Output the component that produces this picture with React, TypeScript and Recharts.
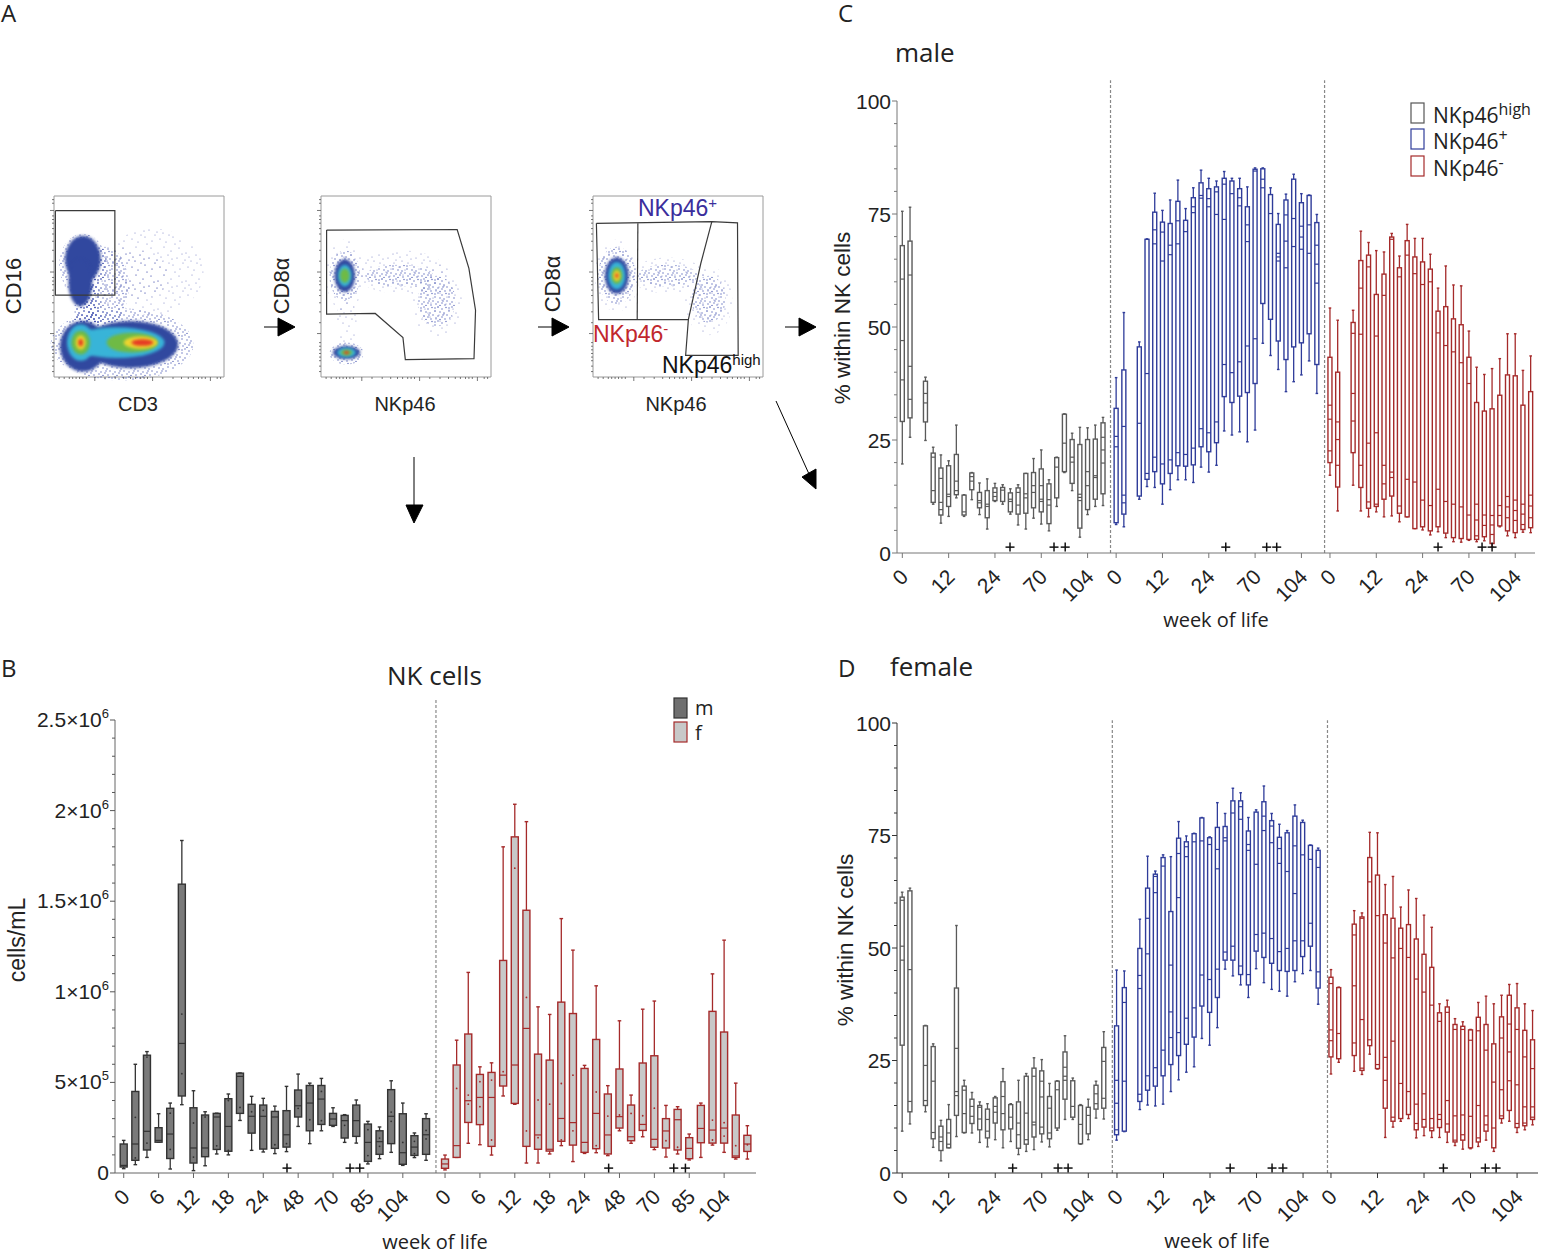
import React from 'react';
import { ComposedChart, ScatterChart, Bar, Scatter, XAxis, YAxis, ReferenceLine, ReferenceArea } from 'recharts';

// ---- box rows: [whisker low, box low, box high, whisker high, ...inner lines]; null = week without data
type Rec = number[] | null;
const maleHigh: Rec[] = [[19.7,29.1,68,75.6,60.6,47,38.3],[25.6,29.9,69,76.5,61.5,41.3,34],null,[24.9,29,38,38.9,35.3,33.2],[10.8,11.2,22.1,23.4,21.2,13.8],[6.6,8.4,18.8,21.7,16.5,11.2,9.6],[8.1,10.3,19.3,20.4,13,12.5],[12.2,12.9,21.8,28.3,15.9,13.8],[8.1,8.4,12.8,12.9,9.1],[11.8,14,17.7,17.8,16.9,15.9],[8.5,10,13.4,15.5,11.6,11.1],[5.3,7.8,13.8,16.4,10.8,10.3],[11.4,11.6,14.4,15.4,13.4,12.5],[10.8,11.4,14.5,15.1,13.9],[8.6,9.1,13.3,14.2,11.9,11.4],[6.2,8.6,14.4,15.1,13.4,10.6],[5.3,8.8,17.6,17.6,13.1,12.2],[7.7,10,17.8,20.9,14.9,13.4],[6.4,9.1,18.6,22.8,14.9,11.9,11.4],[4.9,6.5,15.3,16.2,11.8,10.6],[10.3,12.2,21.1,21.2,19],[17.8,18,30.7,30.8,24.3],[13.8,15.4,25.1,26.5,21.2,20.1],[3.5,5.5,24,27.8,13,12.3,11.6],[8.5,9.6,25.1,27.7,18,14.9],[10.3,11.9,25.2,28.3,17.1,16.7],[10.5,13.1,28.8,30,25.6,22.8,19.9]];
const malePos: Rec[] = [[6.3,6.7,32,38.8,25.8,23.5],[5.8,8.6,40.5,53.2,28,12.8,11.1],null,[11.9,12.6,45.6,46.7,28.7],[14.7,16.3,69.4,69.5,39.7,17.6],[14.5,18,75.4,79.6,71.5,68.4,21.2],[10.8,15.3,73.2,75.8,71,64.6,19.7],[14,17.6,72.9,78.1,68.1,66,20.6],[16.2,19.3,77.8,82.5,73.5,68.4,22.2],[16.2,19.2,73.6,76.2,71.1,21.8],[15.6,19.5,78.6,80.8,76.6,75.3,23.2],[19,23.5,81.9,84.7,79.1,78.5,27.5],[17.9,22.4,80.6,82.9,78.4,76.6,26.6],[19.4,24.4,81,82.3,79.9,74.9,29],[27,34.6,82.9,84.4,81.6,73.8,41.7],[26.1,33.3,82.3,82.9,79.5,39.9],[26.8,34.7,80.6,82.9,78.6,76.8,42.3],[24.6,35.5,76.6,81,72.6,68.9,45.8],[27.2,37.5,84.9,85.2,84.5,47.4],[46.4,55.2,85,85.2,82.7,80.8],[43.7,51.7,79.3,80.8,75.1],[40.6,46.9,72.7,75.1,66.3,65.5,64.6],[35.7,42.8,78.1,79.4,74.8,69,63.1],[37.9,45.6,82.7,83.8,74,67.8],[39.4,46.5,77.5,79.5,72.3,69.9,67.2],[42.5,48.5,79.1,79.2,72.6,66.3],[35.3,41.7,73.1,74.9,68.1,63.9,59.7]];
const maleNeg: Rec[] = [[17.2,20,43.3,54.2,32.7,29.6,22.6],[9.3,14.6,40,51.5,29,25.1,19.4],null,[15,22.2,51,53.7,48.6,35.3,29.2],[9.3,14.5,64.7,71.2,58.6,48.4,19.4],[8,9.9,65.9,68.7,63.3,24.3,11.3],[9.1,10.3,57.2,66.9,48,26.6,10.8],[8,11.9,61.7,66.6,57,19.4,15.3],[8.2,12.6,69.9,70.7,69.4,17.9,16.7],[6.9,8.8,63.1,65.7,61.1,10.4],[8,8,69.1,72.7,65.9,16.3],[5.4,5.4,65.5,69.6,61.8,15.7],[5.1,5.8,64.4,69.6,59.4,11.7],[4,4.9,62.8,66.1,60,10.5],[4.7,5.8,53.5,58.6,48.7,14.1],[3.4,4.4,54.5,63.5,45.9,11.4],[2.5,3.4,51.8,59.3,44.5,10.8],[2.4,3.2,50.5,59.1,42.1,10.2],[2.8,3,43.3,49.1,37.5,8.4],[2.5,3,33.3,41.1,10.8,7.3,3.8],[2.7,3.6,31.4,39.5,8.4,6.1],[1.4,2.1,31.9,40.8,8.3,6.2,4.1],[5.8,6,34.9,43,10.5,8.3],[3.8,4.9,39.4,48.5,12.5,10.2,7.8],[3.4,4.5,39.2,48.5,11.7,9.4,7.2],[4.6,5.2,32.7,40.4,10.8,8.6,6.3],[4.5,5.6,35.7,43.6,12.8,10.4,7.8]];
const femaleHigh: Rec[] = [[9.3,28.4,61.3,62.4,60.6,50.4,47.3],[10.9,13.6,62.7,63.3,45.2,15.9],null,[13.6,15,32.7,32.8,23.9,16.1],[5.7,7.6,28.1,28.7,20.4,9],[2.7,5,10.4,11.7,8,7],[5.6,5.6,11.9,15.2,8.9,6.4],[8.1,12.8,41.1,55,27.7,18.1,17.2],[8.9,9,19.3,20.6,18.4,13.2],[8.9,11,16.4,17.9,14.8,12.6],[6.8,9.6,15,15.8,14.6,12],[5.8,7.8,14.2,15.4,11.9,9.3],[7.4,11.1,16.7,17,14.8,13.5],[5.6,9.6,20.3,23.2,17,13.2],[7,9.8,15.2,15.4,12.4],[4.1,5.5,15.8,20.6,11.1,8.5],[4.8,6.4,21.5,22.1,13.3,7.4],[5.2,8,23.3,25.6,21.5,11.3,10.7],[6.9,8.7,22.7,25.2,20.4,16.9,10.2],[5.8,7.6,17,19.9,14.4,8.9],[9.5,10,20.4,20.5,18.5],[11.9,16.4,26.9,30.5,23.5,21.5,20.6],[11.9,12.4,20.5,21.1,14.8],[6.4,6.5,15,15.2,10.8],[7.4,8.7,14.6,16.4,12.8],[12.2,14.2,19.5,20.4,17.6,15.4],[12,14.4,27.9,31.4,24.8,16.6]];
const femalePos: Rec[] = [[7.3,8.5,32.7,45.1,20.6,15.5,9.6],[9.2,9.3,41.2,44.9,37.9,20.4],null,[14.1,15.9,49.9,56.4,43.9,41,17.5],[15.1,18.4,63.3,70.4,56.6,48.7,21.6],[14.9,19.3,66.4,67.1,65.9,62.3,23.4],[15.3,21.6,70.1,70.7,68.2,27.3],[18.1,24.1,58.1,70.3,46.2,35.8,30.1],[20.7,26.1,74.4,78.1,71,61.2,31.2],[22.4,28.6,73.6,74.9,72.5,70.3,34.4],[23.6,30.2,75.4,75.5,73.6,36.7],[29.9,37.1,78.9,79,73.8,44],[28.4,35.7,74.5,74.7,73,43],[32.3,39,76.8,82.3,71.9,67.6,45.3],[45.3,47.3,77,79.9,74.5,73.8,49.1],[43.8,47.3,82.7,85.5,80,50.4],[41.8,44.1,82.7,84.5,81.4,78.6,46],[39,41.8,76,79,73,71.7,44.1],[45.4,49.3,80.2,80.7,68.6,53],[42.3,47.9,82.5,86,79.3,76.1,53.3],[40.8,46.6,78.3,79.9,77.1,73.4,52.1],[40.4,45,74.6,77.5,72.1,68.8,49.2],[39.3,44.8,75.6,76.1,67,49.9],[42.5,45,79.3,81.8,72.7,62.1,51.6],[44.3,48.1,77.9,78.4,70.7,51.6],[45,50.4,72.8,72.9,69.7,55.5],[37.5,41.1,71.7,72.2,67.9,44.7]];
const femaleNeg: Rec[] = [[22,25.8,43.5,45.2,42.1,31.8,29.4],[24.6,25.4,41.2,41.3,31],null,[22.6,26.1,55.3,58.3,52.9,41.6,28.9],[21.9,22.8,56.9,57.8,56.6,34.1,23.3],[26.4,28.3,70.1,75.7,64.7,29.6],[23.1,23.2,66.2,75.6,57.2,24.1],[7.9,14.4,57.4,64.1,51.1,25.7,20.6],[10.2,11.5,56.6,65.9,47.8,29.3,12.4],[11.5,12.1,54.4,59.1,49.9,19.9],[12.1,13,55.2,62.9,47.9,18.1],[7.8,9.6,52,61,43.1,15.3,11],[8.3,10.2,48.6,57.3,40.2,17.6,11.9],[7.9,9.4,45.7,54.6,37.3,12.1,10],[7.9,10.1,35.6,37.6,33.7,13,11.9],[6.8,9.1,36.9,38.4,35.7,16.1,10.9],[6.1,6.9,33,34.3,31.9,12.7,7.3],[5.3,7.3,32.6,33.6,31.9,12.9,8.5],[5.4,5.6,31.8,31.9,29.5,12.6],[5.9,6.9,34.6,37.9,31.6,15,7.8],[7.3,9.3,33,39.3,27.3,12.7,10.7],[4.8,5.6,28.7,37.6,20.2,10],[11.1,12.1,34.7,39.5,30,18.5,12.7],[11.5,13.9,39.5,41.9,33.1,26.9,20.5],[9,10.1,36.7,42.1,31.9,19.6,11],[9.6,10.5,31.7,37.6,25.8,14.7,11.1],[10.7,11.9,29.6,36.1,23.2,14.7,12.4]];
// cells/mL in units of 1e5: [whisker low, box low, box high, whisker high, median, ...single points]
const bloodMale: Rec[] = [[0.24,0.33,1.6,1.8,0.42],[0.46,0.7,4.5,6,1.6,3.07,0.83],[0.86,1.27,6.5,6.7,2.3,6.4,1.65],[1.7,1.7,2.5,3.27,1.8],[0.22,0.8,3.57,3.86,2.15,3.3,1.3],[3.77,4.25,15.94,18.35,7.15,8.77,5.48],[0.13,0.55,3.6,4.54,1.38,2.76,0.88],[0.4,0.9,3.2,3.38,1.38,3.09],[1.05,1.3,3.29,3.3,3.09,1.5],[1,1.2,4.1,4.36,2.57,4,1.25],[2.9,3.29,5.51,5.52,5.33,3.62],[1.25,2.2,3.79,4.23,3.13,3.38],[1.16,1.32,3.75,4.12,3.13,3.46],[1.07,1.36,3.4,3.69,3.09,1.56],[1.18,1.43,3.44,4.78,2.11,1.62],[2.57,3.09,4.58,5.46,3.71,3.57],[1.62,2.33,4.83,4.96,3.86,2.94],[2.33,2.68,4.83,5.22,4.08,4.5,2.89],[2.57,2.63,3.29,3.6,2.98],[1.69,1.93,3.18,3.22,2.89,2.63],[1.65,2.02,3.75,4.03,2.89],[0.5,0.64,2.7,2.85,1.69,2.39,0.96],[0.79,1.03,2.33,2.54,1.73,1.93,1.47],[1.14,1.62,4.6,5.09,3.13,3.36,2.85],[0.42,0.48,3.27,3.86,1.12,1.69],[0.85,0.97,2.06,2.21,1.43,1.75,1.07],[0.7,1.03,3,3.27,2.11,2.35,1.88]];
const bloodFemale: Rec[] = [[0.17,0.26,0.77,0.99,0.5],[0.86,0.86,5.96,7.33,1.51,4.67],[1.64,2.79,7.67,11.07,3.99,4.3,3.8],[1.56,2.67,5.44,5.86,4.17,5.04,3.66],[0.99,1.47,5.55,6.08,4.17,5.13,1.82],[4.25,4.8,11.73,18,5.4,5.59],[3.79,3.84,18.55,20.35,5.96,16.82],[0.55,1.47,14.5,19.39,7.98,9.69,2.32],[0.55,1.31,6.56,9.17,2.1,4.03,1.95],[1.05,1.21,6.23,8.75,1.31,3.8],[1.51,1.75,9.43,14.04,3.01,4.94,1.82],[0.63,1.54,8.8,12.3,2.78,5.4,2.33],[1.08,1.14,5.77,5.94,1.69],[1.12,1.34,7.37,10.33,3.29,4.47,1.51],[0.96,1.05,4.36,4.82,2.1,3.14],[2.33,2.48,5.74,8.4,3.11,3.2],[1.64,1.78,3.75,4.3,2,3.29],[2,2.35,6.07,9.04,2.68,3.16],[1.29,1.42,6.47,9.49,1.86,3.58],[0.88,1.38,3,3.73,2.32,1.78],[1.05,1.27,3.51,3.66,2.94,1.42],[0.72,0.79,1.95,2.15,1.36],[0.86,1.67,3.73,3.86,2.46],[1.54,1.65,8.92,10.99,2.37,2.92,1.82],[1.14,1.65,7.78,12.85,2.48,2.78,2.04],[0.77,0.86,3.2,4.96,0.94,1.51],[0.77,1.19,2.08,2.61,1.6,1.56]];

const pctTickLabels = ['0','12','24','70','104'];
const bloodTickLabels = ['0','6','12','18','24','48','70','85','104'];
const pctYMajor = [0,25,50,75,100];
const pctYTicks = [0,5,10,15,20,25,30,35,40,45,50,55,60,65,70,75,80,85,90,95,100];
const bloodYTicks = [0,1,2,3,4,5,6,7,8,9,10,11,12,13,14,15,16,17,18,19,20,21,22,23,24,25];
const bloodYMajor: Record<number,[string,string]> = {0:['0',''],5:['5×10','5'],10:['1×10','6'],15:['1.5×10','6'],20:['2×10','6'],25:['2.5×10','6']};
const plusC = [13.95,19.65,21.1,41.9,47.2,48.5,69.4,75.1,76.4];
const plusD = [14.25,20.1,21.4,42.3,47.7,49.1,69.8,75.2,76.6];
const plusB = [14.04,19.46,20.3,41.7,47.3,48.3];

// ---- flow cytometry density layers: [x%, y%, rx%, ry%, level] (0 sparse events, 6 dense events, 1..5 density colours)
const flow1Blobs = [[36,56,32,16,0],[58,58,30,24,0],[30,50,14,22,6],[20,36,8,22,6],[19,36,6,16,6],[40,18,42,20,6],[17,62,14,17,6],[17,65,10.5,13,1],[15.5,52,7,13,1],[17,17,13.5,14,1],[45,18,28,13,1],[15.7,19,8,10,2],[37,19,28,8.5,2],[15.7,19,5.5,6.5,3],[46,19,15,5.5,3],[15.7,19,3,4,4],[51,19,10,3.5,4],[15.7,19,1.4,2,5],[52,19,6.5,1.8,5]];
const flow2Blobs = [[14,56,11,20,0],[15,30,6,14,0],[47,58,27,12,0],[68,42,15,20,0],[14,56,9,14,6],[68,42,11,14,6],[46,56,20,6,6],[15,13,10,6,6],[14,56,6,9,1],[15,13.5,8,3.6,1],[14,56,4,6,2],[15,13.5,5.5,2.6,2],[14,56,2.8,4,3],[15,13.5,3.5,1.6,3],[15,13.5,1.5,0.9,5]];
const flow3Blobs = [[14,56,13,20,0],[44,56,22,10,0],[68,42,14,19,0],[14,56,11,16,6],[44,56,18,6,6],[68,43,10,13,6],[14,56,7,10,1],[14,56,5,7.5,2],[14,56,3.2,4.6,3],[14,56,2.1,3,4],[14,56,0.9,1.3,5]];
const flow1Gate = [[0.8,91.9],[35.8,91.9],[35.8,45.2],[0.8,45.2],[0.8,91.9]];
const flow2Gate = [[3.3,81.2],[80.1,81.5],[87,60],[90.9,36.9],[90,10.1],[49.6,9.6],[48.2,21.8],[31.9,35.1],[3.3,34.7],[3.3,81.2]];
const flow3GateOuter = [[2,84.9],[69.9,85.8],[85,85.2],[85.4,12],[54.5,12],[56.1,31.7],[3.3,31.7],[2,84.9]];
const flow3GateInner = [[26.4,84.9],[26,31.7]];
const flow3GateCurve = [[69.9,85.8],[63.4,62.7],[56.1,31.7]];
const flowTicksMajor = [24,58,92];
const flowTicksMinor = [3,6,9,11,13,15,17,19,30,36,41,45,48,51,53,55,64,70,75,79,82,85,87,89,96,98];

const BLOB = ['url(#speck)','#31489f','#38b4d8','#6fba45','#ecd52f','#e63b24','url(#speckDense)'];
const SANS = '"Liberation Sans", Arial, sans-serif';
const OPEN = '"Open Sans", sans-serif';

function toRows(groups: Rec[][], offset: number) {
  const rows: any[] = [];
  groups.forEach((g, gi) => g.forEach((r, i) => {
    if (!r) return;
    rows.push({ x: gi * offset + i, range: [r[1], r[2]], low: r[0], high: r[3], inner: r.slice(4), group: gi });
  }));
  return rows;
}

function makeBox(styles: { stroke: string; fill: string }[], mode: 'pct' | 'blood', boxW: number) {
  return (props: any) => {
    const { x, y, width, height, payload: p } = props;
    const st = styles[p.group];
    const h = Math.abs(height);
    const k = h / (p.range[1] - p.range[0]);
    const yv = (v: number) => y + h - (v - p.range[0]) * k;
    const cx = x + (width || 0) / 2;
    const left = cx - boxW / 2;
    const cap = mode === 'pct' ? 1.3 : 1.8;
    return (
      <g>
        <line x1={cx} x2={cx} y1={yv(p.high)} y2={y} stroke={st.stroke} strokeWidth={1.3} />
        <line x1={cx} x2={cx} y1={y + h} y2={yv(p.low)} stroke={st.stroke} strokeWidth={1.3} />
        <line x1={cx - cap} x2={cx + cap} y1={yv(p.high)} y2={yv(p.high)} stroke={st.stroke} strokeWidth={1.4} />
        <line x1={cx - cap} x2={cx + cap} y1={yv(p.low)} y2={yv(p.low)} stroke={st.stroke} strokeWidth={1.4} />
        <rect x={left} y={y} width={boxW} height={h} fill={st.fill} stroke={st.stroke} strokeWidth={1.4} />
        {p.inner.map((v: number, i: number) =>
          mode === 'pct' || i === 0 ? (
            <line key={i} x1={left} x2={left + boxW} y1={yv(v)} y2={yv(v)} stroke={st.stroke} strokeWidth={1.2} />
          ) : (
            <circle key={i} cx={cx} cy={yv(v)} r={0.9} fill={st.stroke} />
          )
        )}
      </g>
    );
  };
}

const PlusMark = (props: any) => {
  const { cx, cy } = props;
  return (
    <g stroke="#111" strokeWidth={1.5}>
      <line x1={cx - 4.5} x2={cx + 4.5} y1={cy} y2={cy} />
      <line x1={cx} x2={cx} y1={cy - 4.5} y2={cy + 4.5} />
    </g>
  );
};

function xTick(labels: string[], color: string, len: number) {
  return (props: any) => {
    const { x, y, index } = props;
    const label = labels[index % labels.length];
    return (
      <g>
        <line x1={x} x2={x} y1={y} y2={y + len} stroke={color} strokeWidth={1} />
        <text transform={`translate(${x + 2},${y + 20}) rotate(-45)`} textAnchor="end" dominantBaseline="central" fontSize={21} fontFamily={SANS} fill="#222">{label}</text>
      </g>
    );
  };
}

function pctYTick(color: string) {
  return (props: any) => {
    const { x, y, payload } = props;
    const major = pctYMajor.includes(payload.value);
    return (
      <g>
        <line x1={x - (major ? 5 : 3)} x2={x} y1={y} y2={y} stroke={color} strokeWidth={1} />
        {major && <text x={x - 6} y={y} textAnchor="end" dominantBaseline="central" fontSize={21} fontFamily={SANS} fill="#222">{payload.value}</text>}
      </g>
    );
  };
}

const bloodYTick = (props: any) => {
  const { x, y, payload } = props;
  const m = bloodYMajor[payload.value];
  return (
    <g>
      <line x1={x - (m ? 5 : 3)} x2={x} y1={y} y2={y} stroke="#555" strokeWidth={1} />
      {m && (
        <text x={x - 6} y={y + 7} textAnchor="end" fontSize={21} fontFamily={SANS} fill="#222">
          {m[0]}
          {m[1] && <tspan dy={-9} fontSize={13}>{m[1]}</tspan>}
        </text>
      )}
    </g>
  );
};

type PanelProps = {
  left: number; top: number; width: number; height: number;
  xMin: number; xMax: number; offset: number; groups: Rec[][]; styles: { stroke: string; fill: string }[];
  mode: 'pct' | 'blood'; plus: number[]; plusY: number; ticks: number[]; labels: string[];
  dividers: number[]; yMax: number; divTop: number; boxW: number; axis: string;
};

function BoxPanel(p: PanelProps) {
  const mT = 40, mL = 110, mB = 60, mR = 8;
  const rows = toRows(p.groups, p.offset);
  const plusRows = p.plus.map((x) => ({ x, y: p.plusY }));
  return (
    <div style={{ position: 'absolute', left: p.left - mL, top: p.top - mT }}>
      <ComposedChart width={p.width + mL + mR} height={p.height + mT + mB} data={rows} margin={{ top: mT, left: 0, right: mR, bottom: 0 }}>
        <XAxis dataKey="x" type="number" domain={[p.xMin, p.xMax]} ticks={p.ticks} interval={0} height={mB} tickSize={0} tickMargin={0} tickLine={false} stroke={p.axis} tick={xTick(p.labels, p.axis, 5)} allowDataOverflow />
        <YAxis type="number" domain={[0, p.yMax]} ticks={p.mode === 'pct' ? pctYTicks : bloodYTicks} interval={0} width={mL} tickSize={0} tickMargin={0} tickLine={false} stroke={p.axis} tick={p.mode === 'pct' ? pctYTick(p.axis) : bloodYTick} />
        {p.dividers.map((d) => (
          <ReferenceLine key={d} segment={[{ x: d, y: 0 }, { x: d, y: p.divTop }]} stroke="#888" strokeWidth={1.2} strokeDasharray="3 2" ifOverflow="visible" />
        ))}
        <Bar dataKey="range" barSize={p.boxW} isAnimationActive={false} shape={makeBox(p.styles, p.mode, p.boxW)} />
        <Scatter data={plusRows} dataKey="y" isAnimationActive={false} shape={PlusMark} />
      </ComposedChart>
    </div>
  );
}

const BlobShape = (props: any) => {
  const { cx, cy, payload } = props;
  const lvl = payload.level;
  const sparse = lvl === 0 || lvl === 6;
  return <ellipse cx={cx} cy={cy} rx={payload.rx * 1.7} ry={payload.ry * 1.81} fill={BLOB[lvl]} style={sparse ? undefined : { filter: 'blur(1.6px)' }} />;
};
const NoDot = () => <g />;

const flowTick = (axis: 'x' | 'y') => (props: any) => {
  const { x, y, payload } = props;
  const len = flowTicksMajor.includes(payload.value) ? 4 : 2;
  return axis === 'x'
    ? <line x1={x} x2={x} y1={y} y2={y + len} stroke="#555" strokeWidth={0.8} />
    : <line x1={x - len} x2={x} y1={y} y2={y} stroke="#555" strokeWidth={0.8} />;
};

function FlowPlot({ left, blobs, gates }: { left: number; blobs: number[][]; gates: number[][][] }) {
  const blobRows = blobs.map((b) => ({ x: b[0], y: b[1], rx: b[2], ry: b[3], level: b[4] }));
  const allTicks = [...flowTicksMajor, ...flowTicksMinor].sort((a, b) => a - b);
  return (
    <div style={{ position: 'absolute', left: left - 10, top: 196 - 2 }}>
      <ScatterChart width={182} height={191} margin={{ top: 2, left: 0, right: 2, bottom: 0 }}>
        <XAxis dataKey="x" type="number" domain={[0, 100]} ticks={allTicks} interval={0} height={8} tickSize={0} tickMargin={0} tickLine={false} axisLine={false} tick={flowTick('x')} />
        <YAxis dataKey="y" type="number" domain={[0, 100]} ticks={allTicks} interval={0} width={10} tickSize={0} tickMargin={0} tickLine={false} axisLine={false} tick={flowTick('y')} />
        <ReferenceArea x1={0} x2={100} y1={0} y2={100} fill="#fff" stroke="#9a9a9a" strokeWidth={1} />
        <Scatter data={blobRows} isAnimationActive={false} shape={BlobShape} />
        {gates.map((g, i) => (
          <Scatter key={i} data={g.map((q) => ({ x: q[0], y: q[1] }))} isAnimationActive={false} line={{ stroke: '#3a3a3a', strokeWidth: 1.2 }} shape={NoDot} />
        ))}
      </ScatterChart>
    </div>
  );
}

const T = (p: any) => {
  const { children, ...rest } = p;
  return <text fontFamily={SANS} fill="#222" {...rest}>{children}</text>;
};
const VT = ({ x, y, size = 22, family = SANS, children }: any) => (
  <text transform={`translate(${x},${y}) rotate(-90)`} textAnchor="middle" dominantBaseline="central" fontSize={size} fontFamily={family} fill="#222">{children}</text>
);

const speckDots = [[2,3],[7,11],[12,5],[17,15],[21,8],[4,17],[10,20],[15,1],[24,19],[26,4],[1,10],[19,22],[8,25],[23,26],[13,13],[27,13],[5,7],[16,9]];
const speckDenseDots = [[1,1],[5,3],[9,1.5],[12,5],[3,6],[7,7],[10,9],[1,10],[5,11],[13,12],[8,13],[3,13.5],[12,2],[6,9]];

const Overlay = () => (
  <svg width={1542} height={1253} style={{ position: 'absolute', left: 0, top: 0, pointerEvents: 'none' }}>
    <defs>
      <pattern id="speck" width="28" height="28" patternUnits="userSpaceOnUse">
        {speckDots.map((d, i) => <circle key={i} cx={d[0]} cy={d[1]} r={0.55} fill="#4a55b0" opacity={0.75} />)}
      </pattern>
      <pattern id="speckDense" width="14" height="14" patternUnits="userSpaceOnUse">
        {speckDenseDots.map((d, i) => <circle key={i} cx={d[0]} cy={d[1]} r={0.7} fill="#3a4aaa" opacity={0.85} />)}
      </pattern>
    </defs>
    <text x={1} y={22} fontSize={24} fontFamily={OPEN} fill="#222">A</text>
    <text x={1} y={677} fontSize={24} fontFamily={OPEN} fill="#222">B</text>
    <text x={838} y={22} fontSize={24} fontFamily={OPEN} fill="#222">C</text>
    <text x={838} y={677} fontSize={24} fontFamily={OPEN} fill="#222">D</text>
    <text x={895} y={62} fontSize={26} fontFamily={OPEN} fill="#222">male</text>
    <text x={890} y={676} fontSize={26} fontFamily={OPEN} fill="#222">female</text>
    <text x={387} y={685} fontSize={26} fontFamily={OPEN} fill="#222">NK cells</text>
    <text x={1216} y={627} fontSize={20} fontFamily={OPEN} fill="#222" textAnchor="middle">week of life</text>
    <text x={1217} y={1248} fontSize={20} fontFamily={OPEN} fill="#222" textAnchor="middle">week of life</text>
    <text x={435} y={1249} fontSize={20} fontFamily={OPEN} fill="#222" textAnchor="middle">week of life</text>
    <VT x={842} y={318} size={22.5}>% within NK cells</VT>
    <VT x={845} y={940} size={22.5}>% within NK cells</VT>
    <VT x={17} y={940} size={23}>cells/mL</VT>
    <VT x={13} y={286}>CD16</VT>
    <VT x={281} y={286}>CD8α</VT>
    <VT x={552} y={284}>CD8α</VT>
    <T x={138} y={411} fontSize={20} textAnchor="middle">CD3</T>
    <T x={405} y={411} fontSize={20} textAnchor="middle">NKp46</T>
    <T x={676} y={411} fontSize={20} textAnchor="middle">NKp46</T>
    <T x={638} y={216} fontSize={23} fill="#3b2e9c">NKp46<tspan dy={-8} fontSize={15}>+</tspan></T>
    <T x={593} y={342} fontSize={23} fill="#c1272d">NKp46<tspan dy={-8} fontSize={15}>-</tspan></T>
    <T x={662} y={373} fontSize={23} fill="#111">NKp46<tspan dy={-8} fontSize={15}>high</tspan></T>
    {/* arrows */}
    <g fill="#000" stroke="#000" strokeWidth={1}>
      <line x1={264} x2={280} y1={327} y2={327} />
      <polygon points="278,318 295,327 278,336" />
      <line x1={538} x2={554} y1={327} y2={327} />
      <polygon points="552,318 569,327 552,336" />
      <line x1={785} x2={801} y1={327} y2={327} />
      <polygon points="799,318 816,327 799,336" />
      <line x1={414} x2={414} y1={457} y2={507} />
      <polygon points="406,505 423,505 414,523" />
      <line x1={776} x2={809} y1={401} y2={474} />
      <polygon points="802,477 816,469 816,489" />
    </g>
    {/* legends */}
    <rect x={1411} y={103} width={13} height={20} fill="#fff" stroke="#555" strokeWidth={1.2} />
    <rect x={1411} y={129} width={13} height={20} fill="#fff" stroke="#2f3c9a" strokeWidth={1.2} />
    <rect x={1411} y={156} width={13} height={20} fill="#fff" stroke="#a52a2a" strokeWidth={1.2} />
    <text x={1433} y={123} fontSize={21} fontFamily={OPEN} fill="#222">NKp46<tspan dy={-8} fontSize={16}>high</tspan></text>
    <text x={1433} y={149} fontSize={21} fontFamily={OPEN} fill="#222">NKp46<tspan dy={-8} fontSize={16}>+</tspan></text>
    <text x={1433} y={176} fontSize={21} fontFamily={OPEN} fill="#222">NKp46<tspan dy={-8} fontSize={16}>-</tspan></text>
    <rect x={674} y={698} width={13} height={20} fill="#6f6f6f" stroke="#333" strokeWidth={1.2} />
    <rect x={674} y={722} width={13} height={20} fill="#c8c8c8" stroke="#a52a2a" strokeWidth={1.2} />
    <text x={695} y={715} fontSize={20} fontFamily={OPEN} fill="#222">m</text>
    <text x={695} y={740} fontSize={20} fontFamily={OPEN} fill="#222">f</text>
  </svg>
);

const pctStyles = [
  { stroke: '#5a5a5a', fill: '#fff' },
  { stroke: '#2f3c9a', fill: '#fff' },
  { stroke: '#a52a2a', fill: '#fff' },
];
const bloodStyles = [
  { stroke: '#333', fill: '#7a7a7a' },
  { stroke: '#a52a2a', fill: '#c8c8c8' },
];

const group = (off: number, step: number, n: number) => Array.from({ length: n }, (_, i) => off + i * step);

export default function App() {
  return (
    <div style={{ position: 'absolute', left: 0, top: 0, width: 1542, height: 1253, background: '#fff', overflow: 'hidden' }}>
      <FlowPlot left={54} blobs={flow1Blobs} gates={[flow1Gate]} />
      <FlowPlot left={321} blobs={flow2Blobs} gates={[flow2Gate]} />
      <FlowPlot left={593} blobs={flow3Blobs} gates={[flow3GateOuter, flow3GateInner, flow3GateCurve]} />

      <BoxPanel left={897} top={101} width={638} height={452} xMin={-0.69} xMax={81.96} offset={27.7}
        groups={[maleHigh, malePos, maleNeg]} styles={pctStyles} mode="pct" plus={plusC} plusY={1.3}
        ticks={[...group(0, 6, 5), ...group(27.7, 6, 5), ...group(55.4, 6, 5)]} labels={pctTickLabels}
        dividers={[26.97, 54.7]} yMax={100} divTop={104.6} boxW={4} axis="#777" />

      <BoxPanel left={897} top={723} width={641} height={450} xMin={-0.67} xMax={82.0} offset={27.65}
        groups={[femaleHigh, femalePos, femaleNeg]} styles={pctStyles} mode="pct" plus={plusD} plusY={1.1}
        ticks={[...group(0, 6, 5), ...group(27.7, 6, 5), ...group(55.3, 6, 5)]} labels={pctTickLabels}
        dividers={[27.1, 54.85]} yMax={100} divTop={100.6} boxW={4} axis="#333" />

      <BoxPanel left={115} top={720} width={641} height={453} xMin={-0.75} xMax={54.37} offset={27.63}
        groups={[bloodMale, bloodFemale]} styles={bloodStyles} mode="blood" plus={plusB} plusY={0.27}
        ticks={[...group(0, 3, 9), ...group(27.63, 3, 9)]} labels={bloodTickLabels}
        dividers={[26.85]} yMax={25} divTop={26.1} boxW={7} axis="#666" />

      <Overlay />
    </div>
  );
}
